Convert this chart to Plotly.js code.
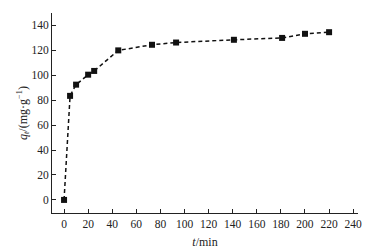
<!DOCTYPE html>
<html><head><meta charset="utf-8">
<script src="https://cdn.plot.ly/plotly-3.0.1.min.js"></script>
<style>html,body{margin:0;padding:0;background:#fff}#c{width:376px;height:249px}</style>
</head><body><div id="c"></div>
<script>
var timeMin = [0, 5, 10, 20, 25, 45, 73, 93, 141, 181, 200, 220];
var qt = [0, 83.5, 92.5, 100.5, 103.5, 120, 124.5, 126.3, 128.5, 130, 133.3, 134.6];
var xTicks = [0,20,40,60,80,100,120,140,160,180,200,220,240];
var yTicks = [0,20,40,60,80,100,120,140];

var font = {family: '"Liberation Serif", "Times New Roman", serif', size: 11.5, color: '#222'};
var tfont = {family: '"Liberation Serif", "Times New Roman", serif', size: 12, color: '#222'};
Plotly.newPlot('c', [{
  x: timeMin, y: qt, type: 'scatter', mode: 'lines+markers',
  line: {color: '#111', width: 1.5, dash: '4px,3px'},
  marker: {symbol: 'square', size: 6, color: '#111'}
}], {
  width: 376, height: 249,
  margin: {l: 52, r: 18, t: 13, b: 36},
  paper_bgcolor: '#fff', plot_bgcolor: '#fff',
  font: font, showlegend: false,
  xaxis: {range: [-10, 244], tickvals: xTicks, ticktext: xTicks.map(String),
    showline: true, linecolor: '#222', linewidth: 1, ticks: 'inside', ticklen: 4, tickcolor: '#222',
    showgrid: false, zeroline: false, tickfont: font,
    title: {text: '<i>t</i>/min', font: tfont, standoff: 8}},
  yaxis: {range: [-10.5, 150], tickvals: yTicks, ticktext: yTicks.map(String),
    showline: true, linecolor: '#222', linewidth: 1, ticks: 'inside', ticklen: 4, tickcolor: '#222',
    showgrid: false, zeroline: false, tickfont: font,
    title: {text: '<i>q</i><sub><i>t</i></sub>/(mg·g<sup>−1</sup>)', font: tfont, standoff: 1}}
}, {displayModeBar: false, staticPlot: true});
</script></body></html>
